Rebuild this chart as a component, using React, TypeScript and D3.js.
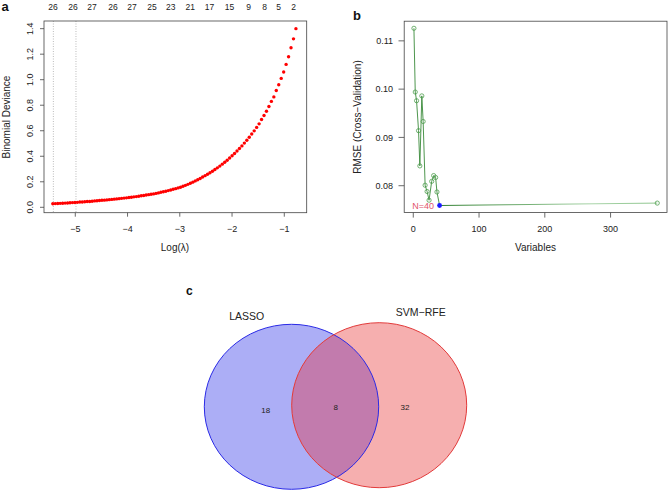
import React from "react";
import * as d3 from "d3";

// ---------- Panel a: LASSO CV curve ----------
const logLambda = [
  -5.430, -5.383, -5.336, -5.289, -5.242, -5.195, -5.148, -5.101, -5.054, -5.007,
  -4.960, -4.913, -4.866, -4.819, -4.772, -4.725, -4.678, -4.631, -4.584, -4.537,
  -4.490, -4.443, -4.396, -4.349, -4.302, -4.255, -4.208, -4.161, -4.114, -4.067,
  -4.020, -3.973, -3.926, -3.879, -3.832, -3.785, -3.738, -3.691, -3.644, -3.597,
  -3.550, -3.503, -3.456, -3.409, -3.362, -3.315, -3.268, -3.221, -3.174, -3.127,
  -3.080, -3.033, -2.986, -2.939, -2.892, -2.845, -2.798, -2.751, -2.704, -2.657,
  -2.610, -2.563, -2.516, -2.469, -2.422, -2.375, -2.328, -2.281, -2.234, -2.187,
  -2.140, -2.093, -2.046, -1.999, -1.952, -1.905, -1.858, -1.811, -1.764, -1.717,
  -1.670, -1.623, -1.576, -1.529, -1.482, -1.435, -1.388, -1.341, -1.294, -1.247,
  -1.200, -1.153, -1.106, -1.059, -1.012, -0.965, -0.918, -0.871, -0.824, -0.777,
];
const deviance = [
  0.028, 0.029, 0.030, 0.031, 0.032, 0.033, 0.034, 0.036, 0.037, 0.038,
  0.039, 0.041, 0.042, 0.043, 0.045, 0.046, 0.048, 0.050, 0.051, 0.053,
  0.055, 0.056, 0.058, 0.060, 0.062, 0.064, 0.066, 0.068, 0.070, 0.072,
  0.074, 0.077, 0.079, 0.082, 0.084, 0.087, 0.090, 0.093, 0.096, 0.099,
  0.102, 0.105, 0.109, 0.113, 0.118, 0.122, 0.126, 0.131, 0.136, 0.141,
  0.146, 0.152, 0.157, 0.165, 0.172, 0.180, 0.189, 0.197, 0.207, 0.216,
  0.226, 0.237, 0.248, 0.259, 0.271, 0.283, 0.296, 0.309, 0.323, 0.338,
  0.353, 0.369, 0.386, 0.404, 0.422, 0.441, 0.461, 0.481, 0.503, 0.525,
  0.549, 0.574, 0.599, 0.626, 0.654, 0.688, 0.720, 0.753, 0.790, 0.830,
  0.865, 0.915, 0.960, 1.010, 1.060, 1.120, 1.180, 1.250, 1.320, 1.400,
];
const topCounts = [26, 26, 27, 26, 27, 25, 23, 21, 17, 15, 9, 8, 5, 2];
const topCountLambda = [-5.427, -5.044, -4.680, -4.278, -3.915, -3.532, -3.171, -2.798, -2.430, -2.047, -1.684, -1.377, -1.109, -0.822];
const lambdaLines = [-5.42, -4.987];
const aXTicks = [-5, -4, -3, -2, -1];
const aYTicks = [0, 0.2, 0.4, 0.6, 0.8, 1.0, 1.2, 1.4];

// ---------- Panel b: SVM-RFE ----------
const rfeVars = [1, 3, 5, 8, 10, 13, 15, 18, 21, 24, 28, 31, 34, 36, 40, 371];
const rfeRmse = [0.1126, 0.0994, 0.0976, 0.0914, 0.0841, 0.0986, 0.0933, 0.0801, 0.0788, 0.0770, 0.0809, 0.0821, 0.0817, 0.0787, 0.0759, 0.0764];
const bestN = 40;
const bXTicks = [0, 100, 200, 300];
const bYTicks = [0.08, 0.09, 0.10, 0.11];

// ---------- Panel c: Venn ----------
const vennSets = ["LASSO", "SVM\u2212RFE"];
const vennCounts = [18, 8, 32];

const FONT = "'Liberation Sans', Arial, Helvetica, sans-serif";
const AX = "#444";

export default function App() {
  // panel a scales
  const ax = d3.scaleLinear().domain([-5.599, -0.571]).range([44, 306.7]);
  const ay = d3.scaleLinear().domain([-0.0423, 1.46]).range([212.7, 21]);
  // panel b scales
  const bx = d3.scaleLinear().domain([-13.8, 385.8]).range([404.2, 667]);
  const by = d3.scaleLinear().domain([0.07443, 0.11407]).range([212.6, 21.2]);

  const rfePts = rfeVars.map((v, i) => [v, rfeRmse[i]] as [number, number]);
  const line = d3.line<[number, number]>().x((d) => bx(d[0])).y((d) => by(d[1]));
  const bestIdx = rfeVars.indexOf(bestN);

  // Venn layout
  const c1 = { cx: 291.5, cy: 406.8, rx: 87.2, ry: 82.5 };
  const c2 = { cx: 379.2, cy: 405.2, rx: 87.5, ry: 82.5 };

  return (
    <svg width={669} height={492} style={{ position: "absolute", left: 0, top: 0, background: "#fff" }} fontFamily={FONT}>
      <defs>
        <clipPath id="clipLasso">
          <ellipse cx={c1.cx} cy={c1.cy} rx={c1.rx} ry={c1.ry} />
        </clipPath>
        <linearGradient id="tailGrad" gradientUnits="userSpaceOnUse" x1={bx(bestN)} x2={bx(371)} y1={0} y2={0}>
          <stop offset="0" stopColor="#2f7f2f" />
          <stop offset="0.7" stopColor="#a8d4a8" />
          <stop offset="1" stopColor="#8cc48c" />
        </linearGradient>
      </defs>

      {/* ===== Panel a ===== */}
      <text x={1.5} y={10.5} fontSize={13} fontWeight="bold" fill="#111">a</text>
      {topCounts.map((c, i) => (
        <text key={"tc" + i} x={ax(topCountLambda[i])} y={9.5} fontSize={8.5} textAnchor="middle" fill="#222">{c}</text>
      ))}
      {lambdaLines.map((l, i) => (
        <line key={"ll" + i} x1={ax(l)} x2={ax(l)} y1={21} y2={212.7} stroke="#aaa" strokeWidth={0.8} strokeDasharray="1,1.5" />
      ))}
      {logLambda.map((l, i) => (
        <circle key={"p" + i} cx={ax(l)} cy={ay(deviance[i])} r={1.7} fill="#ff0000" />
      ))}
      <rect x={44} y={21} width={262.7} height={191.7} fill="none" stroke={AX} strokeWidth={0.8} />
      {aYTicks.map((t) => (
        <g key={"ay" + t}>
          <line x1={40} x2={44} y1={ay(t)} y2={ay(t)} stroke={AX} strokeWidth={0.8} />
          <text transform={`translate(29.5,${ay(t)}) rotate(-90)`} fontSize={9} textAnchor="middle" dy="0.35em" fill="#222">{t.toFixed(1)}</text>
        </g>
      ))}
      {aXTicks.map((t) => (
        <g key={"ax" + t}>
          <line x1={ax(t)} x2={ax(t)} y1={212.7} y2={216.7} stroke={AX} strokeWidth={0.8} />
          <text x={ax(t)} y={232} fontSize={9} textAnchor="middle" fill="#222">{"\u2212" + Math.abs(t)}</text>
        </g>
      ))}
      <text x={175} y={250.5} fontSize={10} textAnchor="middle" fill="#222">Log(λ)</text>
      <text transform="translate(6,117) rotate(-90)" fontSize={10} textAnchor="middle" dy="0.35em" fill="#222">Binomial Deviance</text>

      {/* ===== Panel b ===== */}
      <text x={353} y={20} fontSize={13} fontWeight="bold" fill="#111">b</text>
      <path d={line(rfePts.slice(0, bestIdx + 1)) || ""} fill="none" stroke="#3a8a3a" strokeWidth={0.9} />
      <path d={line(rfePts.slice(bestIdx)) || ""} fill="none" stroke="url(#tailGrad)" strokeWidth={1} />
      {rfePts.map((d, i) =>
        i === bestIdx ? null : (
          <circle key={"r" + i} cx={bx(d[0])} cy={by(d[1])} r={2.1} fill="none" stroke="#4f9e4f" strokeWidth={0.8} />
        )
      )}
      <circle cx={bx(rfePts[bestIdx][0])} cy={by(rfePts[bestIdx][1])} r={2.4} fill="#1a1aff" />
      <text x={bx(rfePts[bestIdx][0]) - 5.5} y={by(rfePts[bestIdx][1]) + 3} fontSize={9} textAnchor="end" fill="#DF536B">{"N=" + bestN}</text>
      <rect x={404.2} y={21.2} width={262.8} height={191.4} fill="none" stroke={AX} strokeWidth={0.8} />
      {bYTicks.map((t) => (
        <g key={"by" + t}>
          <line x1={398.5} x2={404.2} y1={by(t)} y2={by(t)} stroke={AX} strokeWidth={0.8} />
          <text x={393} y={by(t)} dy="0.35em" fontSize={9} textAnchor="end" fill="#222">{t.toFixed(2)}</text>
        </g>
      ))}
      {bXTicks.map((t) => (
        <g key={"bx" + t}>
          <line x1={bx(t)} x2={bx(t)} y1={212.6} y2={217.6} stroke={AX} strokeWidth={0.8} />
          <text x={bx(t)} y={232} fontSize={9} textAnchor="middle" fill="#222">{t}</text>
        </g>
      ))}
      <text x={535.5} y={251} fontSize={10} textAnchor="middle" fill="#222">Variables</text>
      <text transform="translate(357,117) rotate(-90)" fontSize={10} textAnchor="middle" dy="0.35em" fill="#222">RMSE (Cross−Validation)</text>

      {/* ===== Panel c ===== */}
      <text x={186} y={294.5} fontSize={12} fontWeight="bold" fill="#111">c</text>
      <ellipse cx={c1.cx} cy={c1.cy} rx={c1.rx} ry={c1.ry} fill="#acaef6" />
      <ellipse cx={c2.cx} cy={c2.cy} rx={c2.rx} ry={c2.ry} fill="#f6afaf" />
      <ellipse cx={c2.cx} cy={c2.cy} rx={c2.rx} ry={c2.ry} fill="#c27bad" clipPath="url(#clipLasso)" />
      <ellipse cx={c1.cx} cy={c1.cy} rx={c1.rx} ry={c1.ry} fill="none" stroke="#2a2ae6" strokeWidth={1} />
      <ellipse cx={c2.cx} cy={c2.cy} rx={c2.rx} ry={c2.ry} fill="none" stroke="#e23a3a" strokeWidth={1} />
      <text x={246.7} y={319.5} fontSize={10.5} textAnchor="middle" fill="#222">{vennSets[0]}</text>
      <text x={420.8} y={316} fontSize={10.5} textAnchor="middle" fill="#222">{vennSets[1]}</text>
      <text x={265.7} y={410} dy="0.35em" fontSize={8} textAnchor="middle" fill="#222">{vennCounts[0]}</text>
      <text x={335.7} y={406.7} dy="0.35em" fontSize={8} textAnchor="middle" fill="#222">{vennCounts[1]}</text>
      <text x={405} y={406.7} dy="0.35em" fontSize={8} textAnchor="middle" fill="#222">{vennCounts[2]}</text>
    </svg>
  );
}
